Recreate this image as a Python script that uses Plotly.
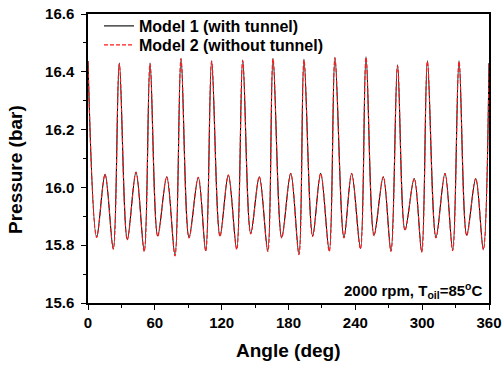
import plotly.graph_objects as go

# Crank angle (deg) at the read-off turning points of the curve
angle_deg = [
    0, 7.8, 15.3, 22.7,
    28.1, 35.3, 43.1, 50.5,
    55.7, 62.6, 70.7, 78.1,
    83.5, 90.7, 99.0, 105.7,
    111.0, 118.5, 126.0, 133.5,
    138.9, 146.1, 153.8, 161.4,
    166.1, 173.9, 182.0, 189.4,
    193.9, 201.7, 208.9, 216.6,
    221.7, 229.8, 236.7, 244.6,
    249.6, 256.8, 265.1, 272.0,
    277.9, 284.6, 292.9, 299.6,
    304.7, 312.4, 320.5, 327.4,
    333.1, 340.0, 348.1, 354.9,
    360,
]

# Pressure (bar), Model 1 (with tunnel)
pressure_model1 = [
    16.437, 15.829, 16.045, 15.788,
    16.430, 15.820, 16.053, 15.780,
    16.430, 15.832, 16.037, 15.765,
    16.447, 15.827, 16.035, 15.781,
    16.438, 15.832, 16.043, 15.787,
    16.441, 15.841, 16.037, 15.780,
    16.447, 15.827, 16.049, 15.769,
    16.443, 15.832, 16.049, 15.780,
    16.450, 15.827, 16.049, 15.789,
    16.452, 15.835, 16.037, 15.780,
    16.424, 15.853, 16.031, 15.778,
    16.438, 15.827, 16.049, 15.783,
    16.438, 15.835, 16.031, 15.786,
    16.430,
]

# Pressure (bar), Model 2 (without tunnel)
pressure_model2 = [
    16.435, 15.827, 16.045, 15.786,
    16.428, 15.818, 16.052, 15.778,
    16.428, 15.830, 16.037, 15.763,
    16.445, 15.825, 16.035, 15.779,
    16.436, 15.830, 16.043, 15.785,
    16.439, 15.839, 16.037, 15.778,
    16.445, 15.825, 16.048, 15.767,
    16.441, 15.830, 16.048, 15.778,
    16.448, 15.825, 16.048, 15.787,
    16.450, 15.833, 16.037, 15.778,
    16.422, 15.851, 16.031, 15.776,
    16.436, 15.825, 16.048, 15.781,
    16.436, 15.833, 16.031, 15.784,
    16.428,
]

x_ticks = [0, 60, 120, 180, 240, 300, 360]
y_ticks = [15.6, 15.8, 16.0, 16.2, 16.4, 16.6]

FONT = "Liberation Sans, Arial, sans-serif"

fig = go.Figure()
fig.add_trace(go.Scatter(
    x=angle_deg, y=pressure_model1, mode="lines",
    name="Model 1 (with tunnel)", legend="legend",
    line=dict(color="black", width=1.1, shape="spline", smoothing=1.0),
))
fig.add_trace(go.Scatter(
    x=angle_deg, y=pressure_model2, mode="lines",
    name="Model 2 (without tunnel)", legend="legend2",
    line=dict(color="#ff1a1a", width=1.1, dash="4px,2px", shape="spline", smoothing=1.0),
))

axis_common = dict(
    showline=True, linecolor="black", linewidth=1.5, mirror=True,
    ticks="outside", ticklen=5, tickwidth=1.2, tickcolor="black",
    showgrid=False, zeroline=False, ticklabeloverflow="allow",
    tickfont=dict(family=FONT, size=15, color="black", weight="bold"),
)

fig.update_xaxes(
    range=[0, 360], tickvals=x_ticks, ticktext=[str(v) for v in x_ticks],
    minor=dict(ticks="outside", ticklen=3, dtick=30, tick0=0, tickcolor="black", tickwidth=1),
    **axis_common,
)
fig.update_yaxes(
    range=[15.6, 16.6], tickvals=y_ticks, ticktext=[f"{v:.1f}" for v in y_ticks],
    minor=dict(ticks="outside", ticklen=3, dtick=0.1, tick0=15.6, tickcolor="black", tickwidth=1),
    ticklabelstandoff=4,
    **axis_common,
)

legend_common = dict(
    xanchor="left", yanchor="middle",
    bgcolor="rgba(0,0,0,0)", borderwidth=0,
    font=dict(family=FONT, size=16, color="black", weight="bold"),
    itemwidth=30,
)

fig.update_layout(
    width=504, height=365,
    margin=dict(l=88, r=15, t=14, b=62, autoexpand=False),
    paper_bgcolor="white", plot_bgcolor="white",
    showlegend=True,
    legend=dict(x=11 / 401, y=(303 - 26) / 289, **legend_common),
    legend2=dict(x=11 / 401, y=(303 - 45) / 289, **legend_common),
    annotations=[
        dict(text="Angle (deg)", xref="paper", yref="paper", x=0.5, y=-47 / 289,
             xanchor="center", yanchor="middle", showarrow=False,
             font=dict(family=FONT, size=19, color="black", weight="bold")),
        dict(text="Pressure (bar)", xref="paper", yref="paper",
             x=-73 / 401, y=(303 - 170) / 289, textangle=-90,
             xanchor="center", yanchor="middle", showarrow=False,
             font=dict(family=FONT, size=19, color="black", weight="bold")),
        dict(text="2000 rpm, T<sub>oil</sub>=85<sup>o</sup>C", xref="paper", yref="paper",
             x=0.99, y=(303 - 290) / 289, xanchor="right", yanchor="middle", showarrow=False,
             font=dict(family=FONT, size=15, color="black", weight="bold")),
    ],
)

# remove the browser's default 8px body margin so the 504x365 figure fills the window
fig.write_html(
    "out.html",
    config={"displayModeBar": False},
    post_script="document.body.style.margin='0';document.body.style.overflow='hidden';",
)
